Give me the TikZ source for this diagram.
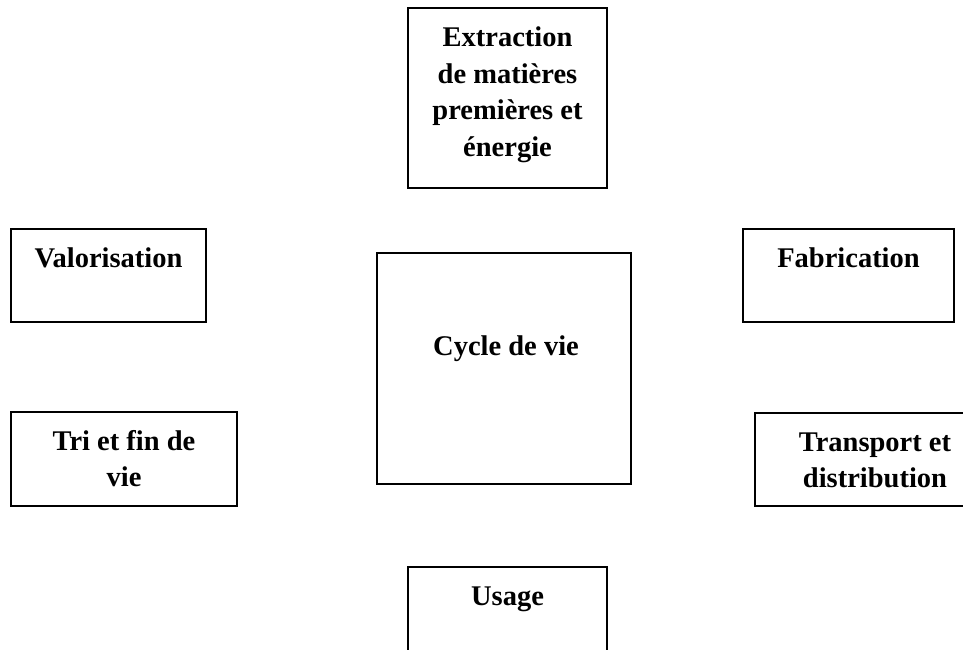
\documentclass[tikz,border=0pt]{standalone}
\usepackage{fontspec}
\setmainfont{Liberation Serif}
\begin{document}
\begin{tikzpicture}[x=1pt,y=-1pt,
  box/.style={draw=black, line width=1.5pt, rectangle, inner sep=0pt, fill=white},
  lbl/.style={anchor=base, inner sep=0pt, align=center, font=\fontsize{28.5}{36.5}\selectfont\bfseries}]
\useasboundingbox (0,0) rectangle (963,650);
\fill[white] (0,0) rectangle (963,650);
% boxes
\node[box, minimum width=199pt, minimum height=180pt] (ext) at (507.5,98) {};
\node[box, minimum width=195pt, minimum height=93pt] (val) at (108.5,275.5) {};
\node[box, minimum width=211pt, minimum height=93pt] (fab) at (848.5,275.5) {};
\node[box, minimum width=254pt, minimum height=231pt] (cyc) at (504,368.5) {};
\node[box, minimum width=226pt, minimum height=94pt] (tri) at (124,459) {};
\node[box, minimum width=240pt, minimum height=93pt] (tra) at (875,459.5) {};
\node[box, minimum width=199pt, minimum height=120pt] (usa) at (507.5,627) {};
% labels (base anchor = baseline of the last line)
\node[lbl] (extt) at (507.5,156.5) {Extraction\\de matières\\premières et\\énergie};
\node[lbl] (valt) at (108.5,267) {Valorisation};
\node[lbl] (fabt) at (848.5,267) {Fabrication};
\node[lbl] (cyct) at (506,355) {Cycle de vie};
\node[lbl] (trit) at (124,486.5) {Tri et fin de\\vie};
\node[lbl] (trat) at (875,487.5) {Transport et\\distribution};
\node[lbl] (usat) at (507.5,605) {Usage};
\end{tikzpicture}
\end{document}
